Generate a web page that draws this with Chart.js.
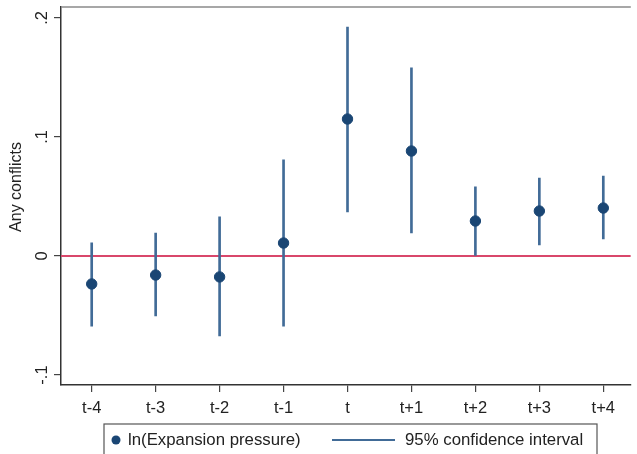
<!DOCTYPE html>
<html>
<head>
<meta charset="utf-8">
<script src="https://cdn.jsdelivr.net/npm/chart.js@4"></script>
<style>
  html, body { margin: 0; padding: 0; background: #fff; overflow: hidden; }
  #wrap { width: 637px; height: 454px; }
</style>
</head>
<body>
<div id="wrap"><canvas id="chart" width="637" height="454"></canvas></div>
<script>
// data
const periods = ["t-4", "t-3", "t-2", "t-1", "t", "t+1", "t+2", "t+3", "t+4"];
const estimate = [-0.0235, -0.016, -0.0176, 0.0109, 0.1151, 0.0882, 0.0294, 0.0378, 0.0403];
const ciLow = [-0.059, -0.0504, -0.0672, -0.059, 0.037, 0.0193, 0.0, 0.0092, 0.0143];
const ciHigh = [0.011, 0.0193, 0.0328, 0.0807, 0.1924, 0.158, 0.058, 0.0655, 0.0672];
const yTicks = [-0.1, 0, 0.1, 0.2];
const yTickLabels = ["-.1", "0", ".1", ".2"];

const FONT = "'Liberation Sans', Arial, sans-serif";
const pointColor = "#1a4674";
const ciColor = "#416b97";

// period index -> x value (-4 .. 4)
const xs = periods.map((p, i) => i - 4);

// draws rotated y labels, axis title, frame and the boxed legend
const decor = {
    id: "decor",
    afterDraw(chart) {
        const ctx = chart.ctx;
        const y = chart.scales.y;
        const a = chart.chartArea;
        ctx.save();
        // top frame line
        ctx.strokeStyle = "#8a8a8a";
        ctx.lineWidth = 1.5;
        ctx.beginPath();
        ctx.moveTo(a.left, a.top);
        ctx.lineTo(a.right, a.top);
        ctx.stroke();

        ctx.fillStyle = "#222";
        ctx.textAlign = "center";
        ctx.textBaseline = "middle";
        ctx.font = "16.5px " + FONT;
        yTicks.forEach((v, i) => {
            ctx.save();
            ctx.translate(42, y.getPixelForValue(v));
            ctx.rotate(-Math.PI / 2);
            ctx.fillText(yTickLabels[i], 0, 0);
            ctx.restore();
        });
        ctx.save();
        ctx.font = "16px " + FONT;
        ctx.translate(17, 187);
        ctx.rotate(-Math.PI / 2);
        ctx.fillText("Any conflicts", 0, 0);
        ctx.restore();

        // legend
        ctx.strokeStyle = "#555";
        ctx.lineWidth = 1.2;
        ctx.strokeRect(104, 424, 493, 40);
        ctx.fillStyle = pointColor;
        ctx.beginPath();
        ctx.arc(116, 440, 4.5, 0, Math.PI * 2);
        ctx.fill();
        ctx.strokeStyle = ciColor;
        ctx.lineWidth = 1.8;
        ctx.beginPath();
        ctx.moveTo(332, 440);
        ctx.lineTo(395, 440);
        ctx.stroke();
        ctx.fillStyle = "#222";
        ctx.textAlign = "left";
        ctx.font = "16.8px " + FONT;
        ctx.fillText(chart.data.datasets[1].label, 128, 440);
        ctx.fillText(chart.data.datasets[0].label, 405, 440);
        ctx.restore();
    }
};

new Chart(document.getElementById("chart"), {
    data: {
        datasets: [
            {
                type: "bar",
                label: "95% confidence interval",
                data: xs.map((x, i) => ({ x: x, y: [ciLow[i], ciHigh[i]] })),
                backgroundColor: ciColor,
                barThickness: 2,
                order: 2
            },
            {
                type: "scatter",
                label: "ln(Expansion pressure)",
                data: xs.map((x, i) => ({ x: x, y: estimate[i] })),
                backgroundColor: pointColor,
                borderColor: pointColor,
                pointRadius: 5.2,
                pointHoverRadius: 5.2,
                order: 1
            },
            {
                type: "line",
                label: "zero",
                data: [{ x: -4.48, y: 0 }, { x: 4.43, y: 0 }],
                borderColor: "#d9476b",
                borderWidth: 2,
                pointRadius: 0,
                order: 3
            }
        ]
    },
    options: {
        responsive: false,
        animation: false,
        layout: { padding: { left: 0, top: 7, right: 0, bottom: 0 } },
        plugins: { legend: { display: false }, tooltip: { enabled: false } },
        scales: {
            x: {
                type: "linear",
                min: -4.48,
                max: 4.43,
                offset: false,
                afterBuildTicks: s => { s.ticks = xs.map(v => ({ value: v })); },
                afterFit: s => { s.height = 69; s.paddingLeft = 0; s.paddingRight = 0; },
                grid: { drawOnChartArea: false, offset: false, tickLength: 7, color: "#444", lineWidth: 1.2 },
                border: { color: "#333", width: 1.5 },
                ticks: {
                    color: "#222",
                    font: { size: 16.5, family: FONT },
                    padding: 7,
                    maxRotation: 0,
                    callback: (v) => periods[v + 4]
                }
            },
            y: {
                min: -0.1084,
                max: 0.2092,
                afterBuildTicks: s => { s.ticks = yTicks.map(v => ({ value: v })); },
                afterFit: s => { s.width = 61; },
                grid: { drawOnChartArea: false, tickLength: 7, color: "#444", lineWidth: 1.2 },
                border: { color: "#333", width: 1.5 },
                ticks: { display: false }
            }
        }
    },
    plugins: [decor]
});
</script>
</body>
</html>
